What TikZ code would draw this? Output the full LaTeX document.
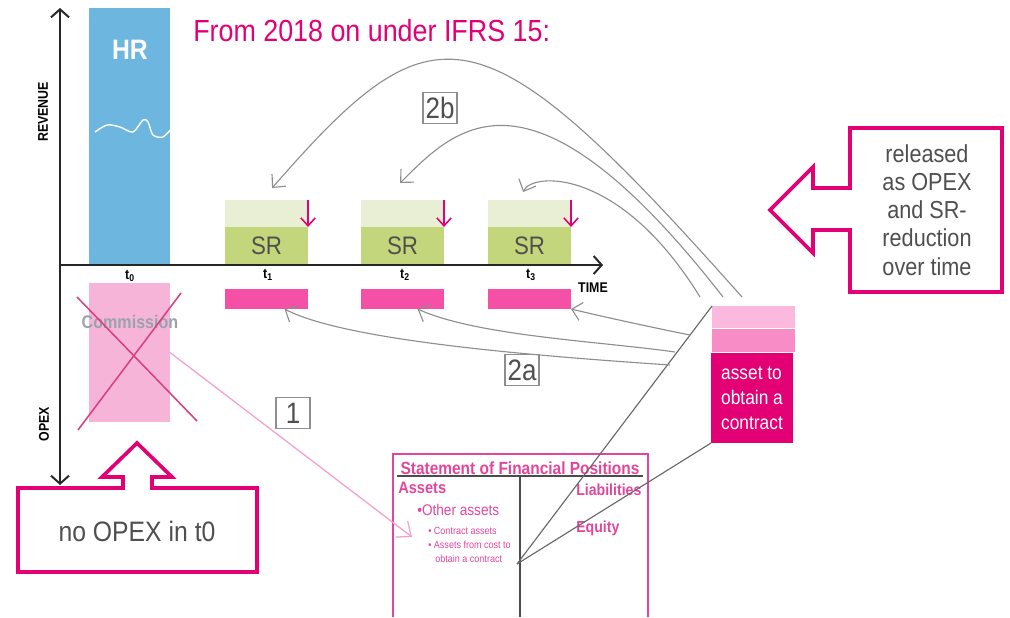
\documentclass[tikz,border=0pt]{standalone}
\usepackage{fontspec}
\setmainfont{Liberation Sans}[FakeStretch=0.88]
\usepackage{xcolor}
\usetikzlibrary{positioning, arrows.meta}

\definecolor{tmagenta}{HTML}{E20074}
\definecolor{barpink}{HTML}{F64FA6}
\definecolor{commpink}{HTML}{F7B4D9}
\definecolor{crosspink}{HTML}{D9407F}
\definecolor{linkpink}{HTML}{F5A0CC}
\definecolor{comgray}{HTML}{9AA3AD}
\definecolor{hrblue}{HTML}{6CB6E0}
\definecolor{srlight}{HTML}{E8EFD5}
\definecolor{srdark}{HTML}{C4D67B}
\definecolor{assetlight}{HTML}{FBBADD}
\definecolor{assetmid}{HTML}{F78CC6}
\definecolor{stmtpink}{HTML}{E2469C}
\definecolor{arcgray}{HTML}{8E8E8E}
\definecolor{textgray}{HTML}{4F4F4F}

\begin{document}
\begin{tikzpicture}[
    x=0.025cm, y=-0.025cm, % one unit = one pixel of the layout, y runs downwards
    % --- STYLES ---
    bar_block/.style={inner sep=0pt, outer sep=0pt, anchor=north west},
    sr_top/.style={bar_block, fill=srlight, minimum width=2.075cm, minimum height=0.675cm},
    sr_base/.style={bar_block, fill=srdark, minimum width=2.075cm, minimum height=0.95cm,
        text=textgray, font=\fontsize{18}{20}\selectfont},
    opex_bar/.style={bar_block, fill=barpink, minimum width=2.075cm, minimum height=0.5cm},
    axis_line/.style={line width=1.4pt, draw=black!85},
    axis_tip/.tip={Straight Barb[length=2mm, width=4.5mm]},
    axis_label/.style={font=\bfseries\fontsize{10}{12}\selectfont, text=black},
    tick_label/.style={font=\bfseries\fontsize{10}{11}\selectfont, text=black, inner sep=1pt},
    step_label/.style={draw=arcgray, line width=0.9pt, text=textgray, inner sep=0pt,
        minimum width=0.85cm, minimum height=0.78cm, font=\fontsize{21}{22}\selectfont},
    callout/.style={draw=tmagenta, line width=2.6pt, line join=miter},
    callout_text/.style={text=textgray, align=center},
    sr_arrow/.style={draw=tmagenta, line width=1.1pt, -{Straight Barb[length=2mm, width=3.6mm]}},
    arc_arrow/.style={draw=arcgray, line width=0.8pt, -{Straight Barb[length=2.4mm, width=4.6mm]}},
    link_arrow/.style={draw=linkpink, line width=0.9pt, -{Straight Barb[length=3mm, width=5mm]}},
    stmt_line/.style={draw=black!60, line width=0.8pt},
    stmt_text/.style={text=stmtpink, anchor=west, inner sep=0pt}
]
\useasboundingbox (0,0) rectangle (1010,617);

% --- AXES ---
\coordinate (origin) at (60,265);
\coordinate (rev_top) at (60,8);
\coordinate (opex_end) at (60,485);
\coordinate (time_end) at (603,265);

% --- HR bar in t0 ---
\node[bar_block, fill=hrblue, minimum width=2.025cm, minimum height=6.425cm] (hr_bar) at (89,8) {};
\node[font=\bfseries\fontsize{20}{22}\selectfont, text=white] (hr_label) at (130,50) {HR};
\draw[white, line width=1pt] plot[smooth] coordinates
    {(95,132) (107,125) (120,127) (133,132) (143,120) (148,122) (153,135) (163,137) (172,128)};

% --- SR bars t1..t3 ---
\node[sr_top] (sr1_top) at (225,200) {};
\node[sr_base, below=0pt of sr1_top] (sr1) {SR};
\node[sr_top] (sr2_top) at (361,200) {};
\node[sr_base, below=0pt of sr2_top] (sr2) {SR};
\node[sr_top] (sr3_top) at (488,200) {};
\node[sr_base, below=0pt of sr3_top] (sr3) {SR};
\draw[sr_arrow] (sr1_top.north east) -- (sr1_top.south east);
\draw[sr_arrow] (sr2_top.north east) -- (sr2_top.south east);
\draw[sr_arrow] (sr3_top.north east) -- (sr3_top.south east);

% --- OPEX bars below the time axis ---
\node[opex_bar] (opex1) at (225,289) {};
\node[opex_bar] (opex2) at (361,289) {};
\node[opex_bar] (opex3) at (488,289) {};

% Commission in t0 (crossed out)
\node[bar_block, fill=commpink, minimum width=2.025cm, minimum height=3.475cm] (commission) at (89,283) {};
\node[font=\bfseries\fontsize{13}{14}\selectfont, text=comgray] (commission_label) at (130,322) {Commission};
\draw[crosspink, line width=1.1pt] (77,297) -- (197,421);
\draw[crosspink, line width=1.1pt] (181,293) -- (78,430);

% axes drawn on top of the bars
\draw[axis_line, axis_tip-axis_tip] (rev_top) -- (opex_end);
\draw[axis_line, -axis_tip] (origin) -- (time_end);
\node[axis_label, rotate=90] (revenue_label) at (43,112) {REVENUE};
\node[axis_label, rotate=90] (opex_label) at (44,424) {OPEX};
\node[axis_label] (time_label) at (593,288) {TIME};
\node[tick_label] (t0_label) at (130,276) {t\textsubscript{0}};
\node[tick_label] (t1_label) at (268,275) {t\textsubscript{1}};
\node[tick_label] (t2_label) at (405,275) {t\textsubscript{2}};
\node[tick_label] (t3_label) at (531,275) {t\textsubscript{3}};

% --- TITLE ---
\node[anchor=base west, inner sep=0pt, text=tmagenta, font=\fontsize{21.7}{24}\selectfont] (title) at (193,42)
    {From 2018 on under IFRS 15:};

% --- ASSET BLOCK ---
\node[bar_block, fill=assetlight, minimum width=2.075cm, minimum height=0.55cm] (asset_top) at (712,306) {};
\node[bar_block, fill=assetmid, minimum width=2.075cm, minimum height=0.575cm] (asset_mid) at (712,329) {};
\node[bar_block, fill=tmagenta, minimum width=2.05cm, minimum height=2.25cm,
    align=left, text=white, font=\fontsize{14}{17.8}\selectfont] (asset_box) at (711,353)
    {asset to\\obtain a\\contract};

% --- STATEMENT OF FINANCIAL POSITIONS ---
\draw[stmtpink, line width=1pt] (393,617) -- (393,454) -- (648,454) -- (648,617);
\node[text=stmtpink, inner sep=0pt, font=\bfseries\fontsize{12.5}{14}\selectfont] (stmt_title) at (520,468)
    {Statement of Financial Positions};
\draw[black!70, line width=1pt] (397,476) -- (643,476);
\draw[black!70, line width=0.8pt] (520,476) -- (520,617);
\node[stmt_text, font=\bfseries\fontsize{11.8}{13}\selectfont] (assets) at (398,488) {Assets};
\node[stmt_text, font=\fontsize{11}{12}\selectfont] (other_assets) at (417,510) {\textbullet Other assets};
\node[stmt_text, font=\fontsize{7.3}{8}\selectfont] (contract_assets) at (428,531) {\textbullet\ Contract assets};
\node[stmt_text, font=\fontsize{7.3}{8}\selectfont] (cost_assets) at (428,545) {\textbullet\ Assets from cost to};
\node[stmt_text, font=\fontsize{7.3}{8}\selectfont] (cost_assets2) at (435,559) {obtain a contract};
\node[stmt_text, font=\bfseries\fontsize{11.4}{13}\selectfont] (liabilities) at (576,490) {Liabilities};
\node[stmt_text, font=\bfseries\fontsize{11.4}{13}\selectfont] (equity) at (576,528) {Equity};
\coordinate (stmt_pt) at (517,564);
\coordinate (stmt_in) at (412,537);

\draw[stmt_line] (stmt_pt) -- (asset_top.north west);
\draw[stmt_line] (stmt_pt) -- (asset_box.south west);

% --- CALLOUTS ---
\draw[callout] (850,128) -- (1002,128) -- (1002,292) -- (850,292) -- (850,230) -- (813,230)
    -- (813,253) -- (770,210) -- (813,167) -- (813,188) -- (850,188) -- cycle;
\node[callout_text, font=\fontsize{17.5}{20}\selectfont] (released_text) at (927,210)
    {released\\as OPEX\\and SR-\\reduction\\over time};
\draw[callout] (18,488) -- (123,488) -- (123,477) -- (102,477) -- (137,443) -- (172,477)
    -- (152,477) -- (152,488) -- (257,488) -- (257,572) -- (18,572) -- cycle;
\node[callout_text, font=\fontsize{20}{22}\selectfont] (no_opex_text) at (137,531) {no OPEX in t0};

% --- STEP 1: commission to the balance sheet ---
\draw[link_arrow] (commission.east) -- (stmt_in);
\node[step_label] (step1) at (293,413) {1};

% --- STEP 2a: release as OPEX ---
\coordinate (a2_from1) at (670,365);
\coordinate (a2_from2) at (675,352);
\coordinate (a2_from3) at (690,335);
\draw[arc_arrow] (a2_from1) .. controls (537,356) and (346,341) .. ([xshift=0.45cm]opex1.south);
\draw[arc_arrow] (a2_from2) .. controls (597,341) and (478,336) .. ([xshift=0.375cm]opex2.south);
\draw[arc_arrow] (a2_from3) .. controls (650,327) and (600,316) .. (opex3.south east);
\node[step_label] (step2a) at (522,370) {2a};

% --- STEP 2b: SR reduction ---
\coordinate (b2_from1) at (742,297);
\coordinate (b2_from2) at (723,297);
\coordinate (b2_from3) at (700,297);
\draw[arc_arrow] (b2_from1) .. controls (480,2) and (435,1) .. ([xshift=0.14cm, yshift=0.3cm]sr1_top.north);
\draw[arc_arrow] (b2_from2) .. controls (530,49) and (456,127) .. ([xshift=-0.06cm, yshift=0.425cm]sr2_top.north);
\draw[arc_arrow] (b2_from3) .. controls (620,167) and (532,172) .. ([xshift=-0.16cm, yshift=0.2cm]sr3_top.north);
\node[step_label] (step2b) at (440,108) {2b};

\end{tikzpicture}
\end{document}
